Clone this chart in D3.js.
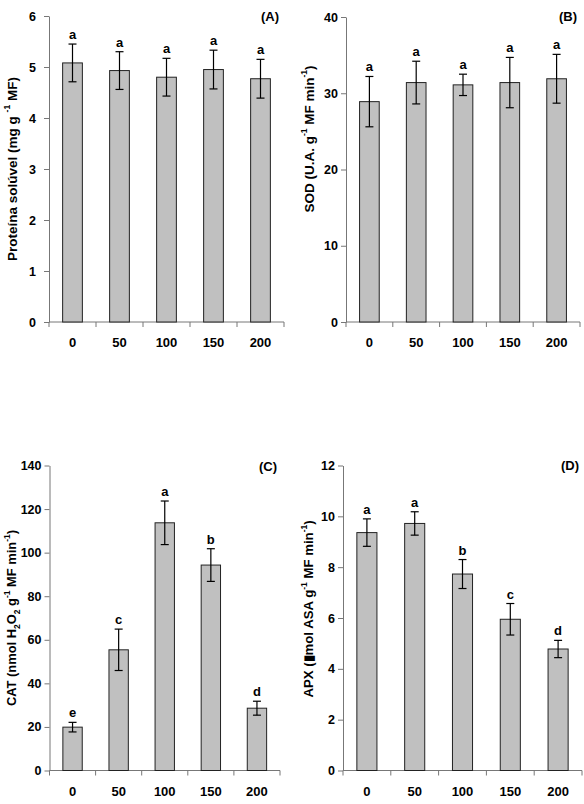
<!DOCTYPE html>
<html><head><meta charset="utf-8">
<script src="https://cdn.jsdelivr.net/npm/d3@7"></script>
<style>
body{margin:0;background:#fff;}
text{font-family:"Liberation Sans",Arial,sans-serif;font-weight:bold;fill:#000;}
</style></head>
<body>
<svg id="chart" width="584" height="804"></svg>
<script>
const doses = ["0","50","100","150","200"];

const proteinValues = [5.08, 4.93, 4.80, 4.95, 4.77];
const proteinErrors = [0.37, 0.37, 0.37, 0.38, 0.38];
const proteinLetters = ["a","a","a","a","a"];
const proteinTicks = [0,1,2,3,4,5,6];

const sodValues = [28.9, 31.4, 31.1, 31.4, 31.9];
const sodErrors = [3.3, 2.8, 1.4, 3.3, 3.2];
const sodLetters = ["a","a","a","a","a"];
const sodTicks = [0,10,20,30,40];

const catValues = [19.9, 55.4, 113.7, 94.3, 28.6];
const catErrors = [2.2, 9.5, 10.0, 7.5, 3.2];
const catLetters = ["e","c","a","b","d"];
const catTicks = [0,20,40,60,80,100,120,140];

const apxValues = [9.36, 9.72, 7.73, 5.95, 4.78];
const apxErrors = [0.54, 0.46, 0.57, 0.62, 0.34];
const apxLetters = ["a","a","b","c","d"];
const apxTicks = [0,2,4,6,8,10,12];

const svg = d3.select("#chart");

const panels = [
  {tag:"(A)", values:proteinValues, errors:proteinErrors, letters:proteinLetters, ticks:proteinTicks,
   x0:49, x1:284, y0:322, y1:16, tagX:270, tagY:21, labX:13, labY:169, tickPad:8, labSize:13.5,
   label:[["Proteína solúvel (mg g ",0],["-1",1],[" MF)",0]]},
  {tag:"(B)", values:sodValues, errors:sodErrors, letters:sodLetters, ticks:sodTicks,
   x0:346, x1:580, y0:322, y1:17, tagX:568, tagY:21, labX:310, labY:139, tickPad:3, labSize:13.5,
   label:[["SOD (U.A. g",0],["-1",1],[" MF min",0],["-1",1],[")",0]]},
  {tag:"(C)", values:catValues, errors:catErrors, letters:catLetters, ticks:catTicks,
   x0:49.5, x1:280, y0:770.5, y1:465.5, tagX:268, tagY:471, labX:13, labY:618, tickPad:3, labSize:12.9,
   label:[["CAT (nmol H",0],["2",-1],["O",0],["2",-1],[" g",0],["-1",1],[" MF min",0],["-1",1],[")",0]]},
  {tag:"(D)", values:apxValues, errors:apxErrors, letters:apxLetters, ticks:apxTicks,
   x0:343, x1:582, y0:770.5, y1:465.5, tagX:570, tagY:470, labX:310, labY:609, tickPad:3, labSize:13.2,
   label:[["APX (",0],["▮",0],["mol ASA g",0],["-1",1],[" MF min",0],["-1",1],[")",0]]}
];

panels.forEach(p => {
  const g = svg.append("g");
  const x = d3.scaleBand().domain(doses).range([p.x0, p.x1]).paddingInner(0).paddingOuter(0);
  const y = d3.scaleLinear().domain([0, d3.max(p.ticks)]).range([p.y0, p.y1]);
  const bw = x.step() * 0.42;

  // y axis
  const ya = g.append("g").attr("transform", `translate(${p.x0},0)`)
    .call(d3.axisLeft(y).tickValues(p.ticks).tickFormat(d3.format("d")).tickSize(5).tickPadding(p.tickPad).tickSizeOuter(0));
  ya.select(".domain").attr("stroke", "#777");
  ya.selectAll(".tick line").attr("stroke", "#777");
  ya.selectAll(".tick text").style("font-size", "12.5px");

  // x axis: ticks at band boundaries
  const xa = g.append("g").attr("transform", `translate(0,${p.y0})`);
  xa.append("line").attr("x1", p.x0).attr("x2", p.x1).attr("y1", 0).attr("y2", 0).attr("stroke", "#777");
  const bounds = doses.map(d => x(d)).concat([x(doses[doses.length-1]) + x.step()]);
  xa.selectAll("line.tk").data(bounds).enter().append("line").attr("class","tk")
    .attr("x1", d => d).attr("x2", d => d).attr("y1", 0).attr("y2", 5).attr("stroke", "#777");
  xa.selectAll("text").data(doses).enter().append("text")
    .attr("x", d => x(d) + x.step()/2).attr("y", 25)
    .attr("text-anchor", "middle").style("font-size", "13px").text(d => d);

  // bars
  g.selectAll("rect.bar").data(p.values).enter().append("rect").attr("class","bar")
    .attr("x", (d,i) => x(doses[i]) + x.step()/2 - bw/2)
    .attr("width", bw)
    .attr("y", d => y(d))
    .attr("height", d => y(0) - y(d))
    .attr("fill", "#c0c0c0").attr("stroke", "#222").attr("stroke-width", 1);

  // error bars
  const eb = g.selectAll("g.err").data(p.values).enter().append("g").attr("class","err");
  eb.append("line")
    .attr("x1", (d,i) => x(doses[i]) + x.step()/2).attr("x2", (d,i) => x(doses[i]) + x.step()/2)
    .attr("y1", (d,i) => y(d + p.errors[i])).attr("y2", (d,i) => y(d - p.errors[i]))
    .attr("stroke", "#000").attr("stroke-width", 1.2);
  [1,-1].forEach(s => {
    eb.append("line")
      .attr("x1", (d,i) => x(doses[i]) + x.step()/2 - 4).attr("x2", (d,i) => x(doses[i]) + x.step()/2 + 4)
      .attr("y1", (d,i) => y(d + s*p.errors[i])).attr("y2", (d,i) => y(d + s*p.errors[i]))
      .attr("stroke", "#000").attr("stroke-width", 1.2);
  });

  // letters
  g.selectAll("text.let").data(p.values).enter().append("text").attr("class","let")
    .attr("x", (d,i) => x(doses[i]) + x.step()/2)
    .attr("y", (d,i) => y(d + p.errors[i]) - 5)
    .attr("text-anchor", "middle").style("font-size", "13px")
    .text((d,i) => p.letters[i]);

  // panel tag
  g.append("text").attr("x", p.tagX).attr("y", p.tagY).attr("text-anchor","middle")
    .style("font-size","13px").text(p.tag);

  // y label
  const lt = g.append("text")
    .attr("transform", `translate(${p.labX},${p.labY}) rotate(-90)`)
    .attr("text-anchor","middle").attr("dominant-baseline","middle")
    .style("font-size", p.labSize + "px");
  p.label.forEach(([t, s]) => {
    const ts = lt.append("tspan").text(t);
    if (s === 1) ts.attr("baseline-shift","super").style("font-size","8.5px");
    if (s === -1) ts.attr("baseline-shift","sub").style("font-size","8.5px");
  });
});
</script>
</body></html>
